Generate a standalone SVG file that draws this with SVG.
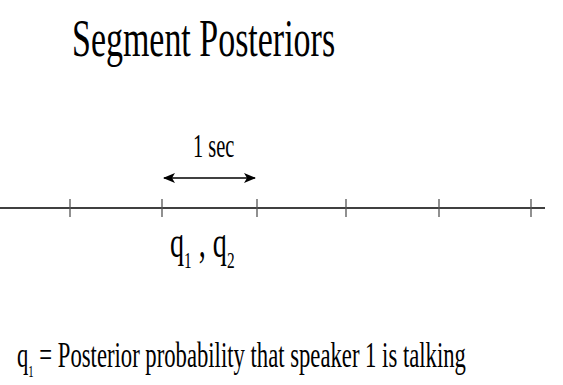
<svg xmlns="http://www.w3.org/2000/svg" width="563" height="385" viewBox="0 0 563 385">
<style>
text{font-family:"Liberation Serif","Times New Roman",serif;fill:#000}
.tick{stroke:#555;stroke-width:1.3}
.axis{stroke:#000;stroke-width:1.5}
</style>
<defs>
<marker id="ah" viewBox="0 0 12 10" refX="11" refY="5" markerWidth="12" markerHeight="10" markerUnits="userSpaceOnUse" orient="auto-start-reverse">
<path d="M0,0 L12,5 L0,10 L3,5 Z" fill="#000"/>
</marker>
</defs>
<rect width="563" height="385" fill="#fff"/>
<g id="title"><text transform="translate(72,56) scale(0.653,1)" font-size="52">Segment Posteriors</text></g>
<g id="connectors">
<line class="axis" x1="0" y1="208" x2="545" y2="208"/>
<line class="tick" x1="70" y1="199" x2="70" y2="217"/>
<line class="tick" x1="162" y1="199" x2="162" y2="217"/>
<line class="tick" x1="257" y1="199" x2="257" y2="217"/>
<line class="tick" x1="346" y1="199" x2="346" y2="217"/>
<line class="tick" x1="439" y1="199" x2="439" y2="217"/>
<line class="tick" x1="531" y1="199" x2="531" y2="217"/>
<line x1="164" y1="178" x2="255" y2="178" stroke="#000" stroke-width="1.3" marker-start="url(#ah)" marker-end="url(#ah)"/>
</g>
<g id="label-1sec"><text transform="translate(193,157) scale(0.6,1)" font-size="34">1 sec</text></g>
<g id="label-q"><text transform="translate(170,257) scale(0.64,1)" font-size="44">q<tspan font-size="24" dy="11">1</tspan><tspan dy="-11"> , q</tspan><tspan font-size="24" dy="11">2</tspan></text></g>
<g id="legend"><text transform="translate(17,367) scale(0.63,1)" font-size="36">q<tspan font-size="17" dy="10">1</tspan><tspan dy="-10"> = Posterior probability that speaker 1 is talking</tspan></text></g>
</svg>
